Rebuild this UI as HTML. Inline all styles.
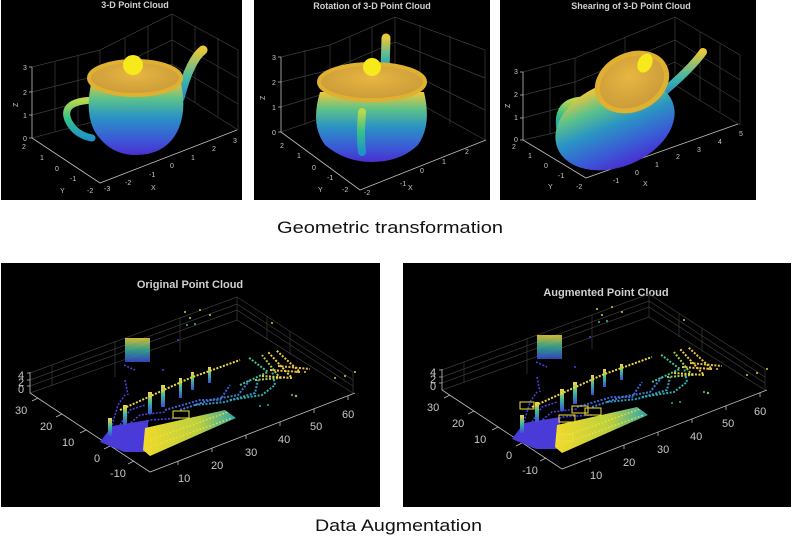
<!DOCTYPE html>
<html><head><meta charset="utf-8"><style>
html,body{margin:0;padding:0;background:#fff;width:795px;height:541px;overflow:hidden}
svg{display:block}
.t{font-family:"Liberation Sans",sans-serif;font-weight:bold;fill:#d0d0d0}
.tk{font-family:"Liberation Sans",sans-serif;fill:#c8c8c8;font-size:7px}
.tkb{font-family:"Liberation Sans",sans-serif;fill:#c8c8c8;font-size:11px}
.g{stroke:#3c3c3c;stroke-width:0.7;fill:none}
.ax{stroke:#bdbdbd;stroke-width:0.8;fill:none}
.cap{font-family:"Liberation Sans",sans-serif;fill:#111;font-size:17px}
</style></head><body>
<svg width="795" height="541" viewBox="0 0 795 541" xmlns="http://www.w3.org/2000/svg">
<defs>
<linearGradient id="body" x1="0" y1="0" x2="0" y2="1">
<stop offset="0" stop-color="#f2c838"/><stop offset="0.25" stop-color="#5cc28a"/><stop offset="0.5" stop-color="#2a93c4"/><stop offset="0.8" stop-color="#3b58d6"/><stop offset="1" stop-color="#4a2fd0"/></linearGradient>
<linearGradient id="hand" x1="0" y1="0" x2="0" y2="1">
<stop offset="0" stop-color="#b9d84a"/><stop offset="0.5" stop-color="#36c08a"/><stop offset="1" stop-color="#1f95c6"/></linearGradient>
<linearGradient id="spout" x1="0" y1="0" x2="0" y2="1">
<stop offset="0" stop-color="#e8c93a"/><stop offset="0.6" stop-color="#3eb7a8"/><stop offset="1" stop-color="#2a86c8"/></linearGradient>
<linearGradient id="lidv" x1="0" y1="0" x2="0" y2="1">
<stop offset="0" stop-color="#f5d83a"/><stop offset="0.5" stop-color="#3bb6a0"/><stop offset="1" stop-color="#3a4fd8"/></linearGradient>
<linearGradient id="strip" x1="0" y1="0" x2="1" y2="0">
<stop offset="0" stop-color="#f2da2a"/><stop offset="0.6" stop-color="#b9d040"/><stop offset="1" stop-color="#2aa6b4"/></linearGradient>
<radialGradient id="lid" cx="0.5" cy="0.4" r="0.6">
<stop offset="0" stop-color="#e8b640"/><stop offset="1" stop-color="#c99a3a"/></radialGradient>
<g id="lidar">
  <!-- grid box -->
  <path class="g" d="M30,373 L237,297 L353,372 M30,380 L237,304 L353,380 M30,386 L237,310 L353,386 M30,393 L237,320 L353,393 M52,365 V386 M115,341 V377 M180,318 V352 M237,297 V320 M267,316 V340 M290,331 V355 M353,372 V393"/>
  <path class="ax" d="M30,372 V393 L150,472 L355,393 M27,373 h3 M27,380 h3 M27,386 h3"/>
  <path class="ax" d="M38,398 l-6,3 M62,414 l-6,3 M86,430 l-6,3 M110,446 l-6,3 M134,461 l-6,3 M178,461 l0,4 M212,448 l0,4 M246,435 l0,4 M280,422 l0,4 M314,409 l0,4 M348,396 l0,4"/>
  <text class="tkb" x="18" y="379">4</text><text class="tkb" x="18" y="386">2</text><text class="tkb" x="18" y="393" >0</text>
  <text class="tkb" x="15" y="414">30</text><text class="tkb" x="40" y="430">20</text><text class="tkb" x="62" y="446">10</text><text class="tkb" x="94" y="462">0</text><text class="tkb" x="110" y="477">-10</text>
  <text class="tkb" x="178" y="482">10</text><text class="tkb" x="211" y="469">20</text><text class="tkb" x="245" y="456">30</text><text class="tkb" x="278" y="443">40</text><text class="tkb" x="310" y="430">50</text><text class="tkb" x="342" y="418">60</text>
  <!-- building -->
  <rect x="125" y="338" width="25" height="24" fill="url(#lidv)" opacity="0.85"/>
  <!-- blue fan lines -->
  <g fill="none" stroke="#4a3fe0" stroke-width="1.6" stroke-dasharray="2 1.5">
    <path d="M112,425 L118,405 L125,395"/><path d="M120,425 L130,410 L145,405"/>
    <path d="M128,425 L140,415 L165,412"/><path d="M135,428 L150,420 L180,418"/>
    <path d="M140,432 L160,426 L195,425"/><path d="M125,380 L128,395"/><path d="M124,365 L135,370"/>
  </g>
  <!-- blue floor -->
  <polygon points="100,442 112,426 148,420 148,452 124,452" fill="#4a3bd8"/>
  <polygon points="143,450 145,428 225,410 236,418 150,456" fill="url(#strip)"/>
  <g fill="none" stroke-width="1.5" stroke="#f0e040" stroke-dasharray="1.5 2">
    <path d="M150,440 L228,412"/><path d="M150,447 L232,418"/>
  </g>
  <!-- poles -->
  <g fill="url(#lidv)">
    <rect x="108" y="418" width="4" height="18"/><rect x="123" y="405" width="4" height="20"/>
    <rect x="148" y="392" width="4" height="22"/><rect x="161" y="385" width="4" height="22"/>
    <rect x="179" y="378" width="3" height="20"/><rect x="191" y="372" width="3" height="18"/>
    <rect x="208" y="367" width="3" height="16"/>
  </g>
  <g fill="none" stroke-width="2" stroke-dasharray="2 1.5">
    <path d="M120,410 L190,378 L240,360" stroke="#f0d83a"/>
    <path d="M165,410 L200,400 L220,400 L230,385" stroke="#3b60d8"/>
    <path d="M180,410 L210,400 L238,395 L250,380" stroke="#3a7ed0"/>
    <path d="M195,405 L225,402 L255,393 L258,380" stroke="#2f9ac4"/>
    <path d="M230,400 L262,395 L275,385 L272,370" stroke="#2ab2b0"/>
    <path d="M240,385 L268,372 L248,357" stroke="#44c09a"/>
    <path d="M255,380 L280,378 L262,355" stroke="#a6cf50"/>
    <path d="M262,376 L292,378 L268,352" stroke="#f0d040"/>
    <path d="M270,370 L300,372 L276,350" stroke="#f0c838"/>
    <path d="M278,366 L310,369" stroke="#e8c040"/>
  </g>
  <rect x="173" y="411" width="16" height="7" fill="none" stroke="#f0e040" stroke-width="1"/>
  <g fill="#e0c83c">
    <circle cx="185" cy="312" r="1"/><circle cx="190" cy="318" r="1"/><circle cx="200" cy="310" r="1"/><circle cx="210" cy="315" r="1"/><circle cx="187" cy="325" r="1" fill="#3cb8a0"/><circle cx="195" cy="324" r="1" fill="#3cb8a0"/><circle cx="272" cy="323" r="1"/><circle cx="297" cy="372" r="1"/><circle cx="305" cy="372" r="1"/><circle cx="335" cy="378" r="1"/><circle cx="345" cy="376" r="1"/><circle cx="355" cy="372" r="1"/><circle cx="296" cy="396" r="1.2" fill="#7cc858"/><circle cx="292" cy="395" r="1" fill="#7cc858"/><circle cx="260" cy="406" r="1" fill="#2ab0b0"/><circle cx="268" cy="405" r="1" fill="#2ab0b0"/><circle cx="178" cy="340" r="1" fill="#4a3fe0"/><circle cx="163" cy="370" r="1" fill="#4a3fe0"/>
  </g>
</g>
</defs>

<!-- Panel 1 -->
<rect x="1" y="0" width="241" height="200" fill="#000"/>
<text class="t" x="135" y="8" font-size="9" text-anchor="middle">3-D Point Cloud</text>
<path class="g" d="M32,67 L100,50 V120 M100,50 L172,14 L238,50 V130 M172,14 V88 M32,138 L100,120 L172,88 L238,130 M32,92 L100,75 L172,40 L238,78 M32,115 L100,97 L172,64 L238,104 M55,62 V132 M78,56 V126 M125,38 V110 M148,26 V98 M195,26 V102 M218,38 V116"/>
<path class="ax" d="M32,67 V138 L100,183 L237,130 M29,67h3 M29,92h3 M29,115h3 M29,138h3"/>
<text class="tk" x="23" y="70">3</text><text class="tk" x="23" y="95">2</text><text class="tk" x="23" y="118">1</text><text class="tk" x="23" y="141">0</text>
<text class="tk" x="12" y="107" transform="rotate(-90 15 104)">Z</text>
<text class="tk" x="22" y="149">2</text><text class="tk" x="40" y="160">1</text><text class="tk" x="55" y="171">0</text><text class="tk" x="70" y="181">-1</text><text class="tk" x="87" y="193">-2</text><text class="tk" x="60" y="193">Y</text>
<text class="tk" x="104" y="191">-3</text><text class="tk" x="125" y="185">-2</text><text class="tk" x="149" y="177">-1</text><text class="tk" x="170" y="168">0</text><text class="tk" x="191" y="160">1</text><text class="tk" x="212" y="151">2</text><text class="tk" x="233" y="143">3</text><text class="tk" x="151" y="190">X</text>
<path d="M180,98 Q190,60 203,50" stroke="url(#spout)" stroke-width="9" fill="none" stroke-linecap="round"/>
<path d="M98,100 Q60,100 68,120 Q75,135 92,138" stroke="url(#hand)" stroke-width="7" fill="none" stroke-linecap="round"/>
<path d="M92,80 Q84,112 95,132 Q110,155 135,155 Q165,155 177,132 Q188,110 180,80 Z" fill="url(#body)"/>
<ellipse cx="135" cy="78" rx="46" ry="17" fill="url(#lid)" stroke="#e0b030" stroke-width="4"/>
<circle cx="133" cy="65" r="10" fill="#f6ea1c"/>

<!-- Panel 2 -->
<rect x="254" y="0" width="236" height="200" fill="#000"/>
<text class="t" x="372" y="9" font-size="9" text-anchor="middle">Rotation of 3-D Point Cloud</text>
<path class="g" d="M281,57 L330,45 V115 M330,45 L395,17 L485,50 V140 M395,17 V90 M281,132 L330,115 L395,90 L485,140 M281,82 L330,70 L395,42 L485,78 M281,107 L330,92 L395,66 L485,110 M305,50 V125 M350,37 V107 M372,27 V97 M420,25 V110 M450,36 V124"/>
<path class="ax" d="M281,57 V132 L360,190 L486,140 M278,57h3 M278,82h3 M278,107h3 M278,132h3"/>
<text class="tk" x="272" y="60">3</text><text class="tk" x="272" y="85">2</text><text class="tk" x="272" y="110">1</text><text class="tk" x="272" y="135">0</text>
<text class="tk" x="259" y="100" transform="rotate(-90 262 97)">Z</text>
<text class="tk" x="280" y="148">2</text><text class="tk" x="297" y="158">1</text><text class="tk" x="312" y="170">0</text><text class="tk" x="327" y="180">-1</text><text class="tk" x="342" y="192">-2</text><text class="tk" x="318" y="192">Y</text>
<text class="tk" x="364" y="195">-2</text><text class="tk" x="400" y="186">-1</text><text class="tk" x="420" y="173">0</text><text class="tk" x="442" y="164">1</text><text class="tk" x="465" y="154">2</text><text class="tk" x="408" y="190">X</text>
<path d="M385,72 L386,38" stroke="url(#spout)" stroke-width="9" fill="none" stroke-linecap="round"/>
<path d="M320,92 Q310,125 325,145 Q345,162 372,162 Q400,162 418,145 Q432,125 424,92 Z" fill="url(#body)"/>
<ellipse cx="372" cy="82" rx="53" ry="18" fill="url(#lid)" stroke="#e0b030" stroke-width="4"/>
<circle cx="372" cy="67" r="9" fill="#f6ea1c"/>
<path d="M362,112 Q360,135 362,152" stroke="url(#hand)" stroke-width="8" fill="none" stroke-linecap="round"/>

<!-- Panel 3 -->
<rect x="500" y="0" width="256" height="200" fill="#000"/>
<text class="t" x="631" y="9" font-size="9" text-anchor="middle">Shearing of 3-D Point Cloud</text>
<path class="g" d="M523,72 L575,58 V128 M575,58 L675,17 L740,55 V125 M675,17 V85 M523,140 L575,128 L675,85 L740,125 M523,95 L575,82 L675,40 L740,80 M523,118 L575,104 L675,62 L740,102 M550,65 V134 M625,38 V107 M700,32 V100 M720,44 V112"/>
<path class="ax" d="M523,72 V140 L586,178 L738,124 M520,72h3 M520,95h3 M520,118h3 M520,140h3"/>
<text class="tk" x="514" y="74">3</text><text class="tk" x="514" y="97">2</text><text class="tk" x="514" y="120">1</text><text class="tk" x="514" y="142">0</text>
<text class="tk" x="504" y="108" transform="rotate(-90 507 105)">Z</text>
<text class="tk" x="512" y="149">2</text><text class="tk" x="528" y="158">1</text><text class="tk" x="544" y="168">0</text><text class="tk" x="558" y="178">-1</text><text class="tk" x="576" y="189">-2</text><text class="tk" x="548" y="189">Y</text>
<text class="tk" x="613" y="183">-1</text><text class="tk" x="635" y="175">0</text><text class="tk" x="655" y="167">1</text><text class="tk" x="676" y="159">2</text><text class="tk" x="697" y="152">3</text><text class="tk" x="718" y="144">4</text><text class="tk" x="739" y="136">5</text><text class="tk" x="643" y="186">X</text>
<path d="M660,95 Q690,70 703,52" stroke="url(#spout)" stroke-width="8" fill="none" stroke-linecap="round"/>
<path d="M585,100 Q555,100 560,130" stroke="url(#hand)" stroke-width="7" fill="none" stroke-linecap="round"/>
<ellipse cx="615" cy="125" rx="62" ry="42" transform="rotate(-22 615 125)" fill="url(#body)"/>
<ellipse cx="632" cy="82" rx="36" ry="27" transform="rotate(-25 632 82)" fill="url(#lid)" stroke="#e0b030" stroke-width="5"/>
<ellipse cx="645" cy="63" rx="7" ry="10" transform="rotate(25 645 63)" fill="#f6ea1c"/>

<text class="cap" x="277" y="233" textLength="226" lengthAdjust="spacingAndGlyphs">Geometric transformation</text>

<!-- Bottom left -->
<rect x="1" y="263" width="379" height="244" fill="#000"/>
<text class="t" x="190" y="288" font-size="11" text-anchor="middle">Original Point Cloud</text>
<use href="#lidar"/>

<!-- Bottom right -->
<rect x="403" y="263" width="388" height="244" fill="#000"/>
<text class="t" x="606" y="296" font-size="11" text-anchor="middle">Augmented Point Cloud</text>
<g transform="translate(412,-3)">
<use href="#lidar"/>
<rect x="108" y="405" width="14" height="7" fill="none" stroke="#f0e040"/>
<rect x="160" y="409" width="16" height="7" fill="none" stroke="#f0e040"/>
<rect x="147" y="418" width="16" height="7" fill="none" stroke="#f0e040"/>
<rect x="145" y="437" width="16" height="7" fill="none" stroke="#f0e040"/>
</g>

<text class="cap" x="315" y="531" textLength="167" lengthAdjust="spacingAndGlyphs">Data Augmentation</text>
</svg>
</body></html>
